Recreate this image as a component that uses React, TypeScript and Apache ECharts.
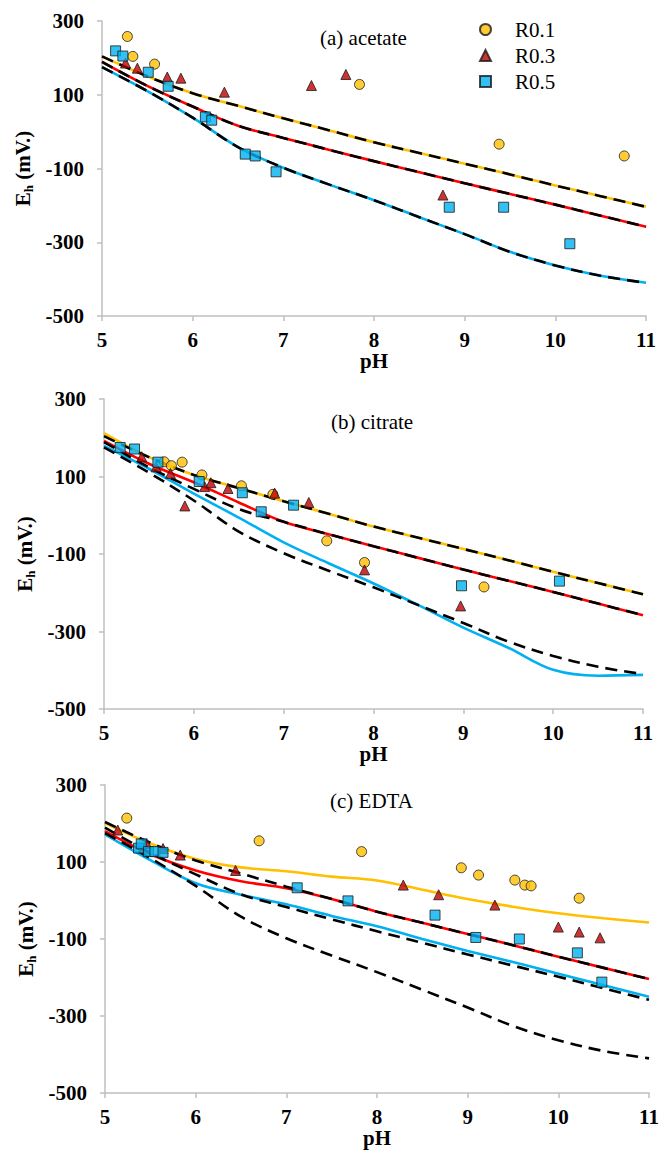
import React, { useEffect, useRef } from "react";
import * as echarts from "echarts";

// pH grid used for the model curves
const PH = [5, 5.5, 6, 6.5, 7, 7.5, 8, 8.5, 9, 9.5, 10, 10.5, 11];
const Y_TICKS = [-500, -300, -100, 100, 300];

// Dashed black reference curves (identical in the three panels)
const DASH_1 = [204, 150, 104, 70, 36, 4, -29, -58, -87, -116, -146, -175, -204];
const DASH_2 = [189, 124, 68, 16, -17, -49, -80, -110, -140, -169, -198, -228, -258];
const DASH_3 = [175, 110, 38, -42, -98, -143, -186, -232, -278, -326, -363, -391, -410];

// (a) acetate solid model curves
const ACE_R01 = [204, 150, 104, 70, 36, 4, -29, -58, -87, -116, -146, -175, -204];
const ACE_R03 = [189, 124, 68, 16, -17, -49, -80, -110, -140, -169, -198, -228, -258];
const ACE_R05 = [175, 110, 38, -42, -98, -143, -186, -232, -278, -326, -363, -391, -410];

// (b) citrate solid model curves
const CIT_R01 = [212, 150, 104, 70, 36, 4, -29, -58, -87, -116, -146, -175, -204];
const CIT_R03 = [192, 133, 85, 33, -17, -49, -80, -110, -140, -169, -198, -228, -258];
const CIT_R05 = [179, 120, 56, -6, -70, -124, -176, -232, -290, -342, -399, -414, -412];

// (c) EDTA solid model curves
const EDTA_R01 = [201, 148, 108, 86, 76, 62, 52, 28, 4, -16, -33, -46, -57];
const EDTA_R03 = [180, 120, 78, 50, 32, 4, -29, -58, -87, -116, -146, -175, -204];
const EDTA_R05 = [172, 105, 45, 15, -10, -40, -67, -100, -131, -160, -190, -220, -250];

// Measured points [pH, Eh]
const ACE_P01 = [[5.28, 258], [5.34, 204], [5.58, 183], [7.84, 128], [9.38, -34], [10.76, -66]];
const ACE_P03 = [[5.26, 186], [5.39, 172], [5.72, 148], [5.87, 145], [6.35, 107], [7.31, 125], [7.69, 155], [8.76, -172]];
const ACE_P05 = [[5.15, 219], [5.23, 205], [5.51, 161], [5.73, 123], [6.14, 40], [6.21, 31], [6.58, -61], [6.69, -66], [6.92, -109], [8.83, -205], [9.43, -205], [10.16, -304]];

const CIT_P01 = [[5.67, 138], [5.75, 128], [5.87, 137], [6.09, 104], [6.53, 76], [6.88, 54], [7.48, -66], [7.9, -122], [9.23, -185]];
const CIT_P03 = [[5.42, 151], [5.58, 125], [5.74, 108], [5.9, 24], [6.12, 74], [6.19, 84], [6.38, 69], [6.9, 57], [7.28, 33], [7.9, -141], [8.97, -234]];
const CIT_P05 = [[5.18, 175], [5.34, 171], [5.6, 137], [6.06, 87], [6.54, 58], [6.75, 9], [7.11, 26], [8.98, -182], [10.07, -170]];

const EDTA_P01 = [[5.24, 214], [6.7, 155], [7.83, 127], [8.93, 85], [9.12, 66], [9.52, 53], [9.63, 40], [9.7, 38], [10.23, 6]];
const EDTA_P03 = [[5.14, 183], [5.46, 148], [5.64, 135], [5.83, 118], [6.44, 78], [8.29, 40], [8.68, 15], [9.3, -12], [10.0, -69], [10.23, -82], [10.46, -97]];
const EDTA_P05 = [[5.37, 136], [5.4, 147], [5.48, 127], [5.55, 127], [5.64, 125], [7.12, 33], [7.68, -1], [8.64, -38], [9.09, -96], [9.57, -100], [10.21, -136], [10.48, -212]];

const SERIES_NAMES = ["R0.1", "R0.3", "R0.5"];
const PANEL_TITLES = ["(a) acetate", "(b) citrate", "(c) EDTA"];

const SERIF = "'Liberation Serif', 'Times New Roman', serif";
const YELLOW = "#FFC000";
const RED = "#FF0000";
const BLUE = "#00B0F0";
const AXIS_GREY = "#BFBFBF";

const zip = (xs: number[], ys: number[]) => xs.map((x, i) => [x, ys[i]]);

export default function App() {
  const ref = useRef<HTMLDivElement>(null);

  useEffect(() => {
    if (!ref.current) return;
    const chart = echarts.init(ref.current, null, { renderer: "svg" });

    const panels = [
      { solids: [ACE_R01, ACE_R03, ACE_R05], pts: [ACE_P01, ACE_P03, ACE_P05], grid: { left: 102, top: 21, width: 544, height: 295 }, title: { left: 320, top: 27 } },
      { solids: [CIT_R01, CIT_R03, CIT_R05], pts: [CIT_P01, CIT_P03, CIT_P05], grid: { left: 104, top: 399, width: 539, height: 310 }, title: { left: 331, top: 411 } },
      { solids: [EDTA_R01, EDTA_R03, EDTA_R05], pts: [EDTA_P01, EDTA_P03, EDTA_P05], grid: { left: 105, top: 785, width: 544, height: 308 }, title: { left: 330, top: 790 } },
    ];

    const lineColors = [YELLOW, RED, BLUE];
    const markerDefs = [
      { symbol: "circle", size: 10, color: YELLOW },
      { symbol: "triangle", size: 10, color: "#C00000" },
      { symbol: "rect", size: 10, color: BLUE },
    ];
    const dashes = [DASH_1, DASH_2, DASH_3];

    const grid: any[] = [];
    const xAxis: any[] = [];
    const yAxis: any[] = [];
    const series: any[] = [];
    const title: any[] = [];

    const labelStyle = { fontFamily: SERIF, fontSize: 21, fontWeight: "bold", color: "#000" };

    panels.forEach((p, i) => {
      grid.push({ ...p.grid, containLabel: false, outerBoundsMode: "none" });
      title.push({
        text: PANEL_TITLES[i],
        left: p.title.left,
        top: p.title.top,
        padding: 0,
        textStyle: { fontFamily: SERIF, fontSize: 21, fontWeight: "normal", color: "#000", lineHeight: 22 },
      });
      xAxis.push({
        gridIndex: i,
        type: "value",
        min: 5,
        max: 11,
        interval: 1,
        axisLine: { show: true, onZero: false, lineStyle: { color: AXIS_GREY, width: 1.5 } },
        axisTick: { show: true, length: 5, lineStyle: { color: AXIS_GREY, width: 1.5 } },
        axisLabel: { ...labelStyle, margin: 13 },
        splitLine: { show: false },
        name: "pH",
        nameLocation: "middle",
        nameGap: 34,
        nameTextStyle: { ...labelStyle },
      });
      yAxis.push({
        gridIndex: i,
        type: "value",
        min: -500,
        max: 300,
        axisLine: { show: true, onZero: false, lineStyle: { color: AXIS_GREY, width: 1.5 } },
        axisTick: { show: true, length: 5, customValues: Y_TICKS, lineStyle: { color: AXIS_GREY, width: 1.5 } },
        axisLabel: { ...labelStyle, margin: 18, customValues: Y_TICKS },
        splitLine: { show: false },
        name: "{e|E}{s|h}{e| (mV.)}",
        nameLocation: "middle",
        nameGap: 58,
        nameTextStyle: {
          ...labelStyle,
          rich: {
            e: { fontFamily: SERIF, fontSize: 21, fontWeight: "bold", color: "#000", lineHeight: 24 },
            s: { fontFamily: SERIF, fontSize: 13, fontWeight: "bold", color: "#000", lineHeight: 10, verticalAlign: "bottom" },
          },
        },
      });

      p.solids.forEach((arr, k) => {
        series.push({
          type: "line",
          xAxisIndex: i,
          yAxisIndex: i,
          data: zip(PH, arr),
          symbol: "none",
          smooth: 0.35,
          silent: true,
          lineStyle: { color: lineColors[k], width: 2.6 },
          z: 2,
        });
      });
      dashes.forEach((arr) => {
        series.push({
          type: "line",
          xAxisIndex: i,
          yAxisIndex: i,
          data: zip(PH, arr),
          symbol: "none",
          smooth: 0.35,
          silent: true,
          lineStyle: { color: "#000", width: 2.6, type: [12, 7] },
          z: 3,
        });
      });
      p.pts.forEach((pts, k) => {
        const m = markerDefs[k];
        series.push({
          type: "scatter",
          name: SERIES_NAMES[k],
          xAxisIndex: i,
          yAxisIndex: i,
          data: pts,
          symbol: m.symbol,
          symbolSize: m.size,
          itemStyle: { color: m.color, borderColor: "#1a1a1a", borderWidth: 1 },
          z: 4,
        });
      });
    });

    chart.setOption({
      animation: false,
      backgroundColor: "#fff",
      title,
      legend: {
        data: SERIES_NAMES,
        orient: "vertical",
        left: 479,
        top: 19,
        padding: 0,
        itemWidth: 11,
        itemHeight: 11,
        itemGap: 5,
        selectedMode: false,
        formatter: (name: string) => `{t|${name}}`,
        textStyle: {
          fontFamily: SERIF,
          fontSize: 21,
          fontWeight: "normal",
          color: "#000",
          lineHeight: 21,
          rich: { t: { fontFamily: SERIF, fontSize: 21, fontWeight: "normal", color: "#000", lineHeight: 21, padding: [0, 0, 0, 19] } },
        },
      },
      grid,
      xAxis,
      yAxis,
      series,
    });

    return () => chart.dispose();
  }, []);

  return (
    <div
      ref={ref}
      style={{ position: "absolute", left: 0, top: 0, width: 664, height: 1154 }}
    />
  );
}
